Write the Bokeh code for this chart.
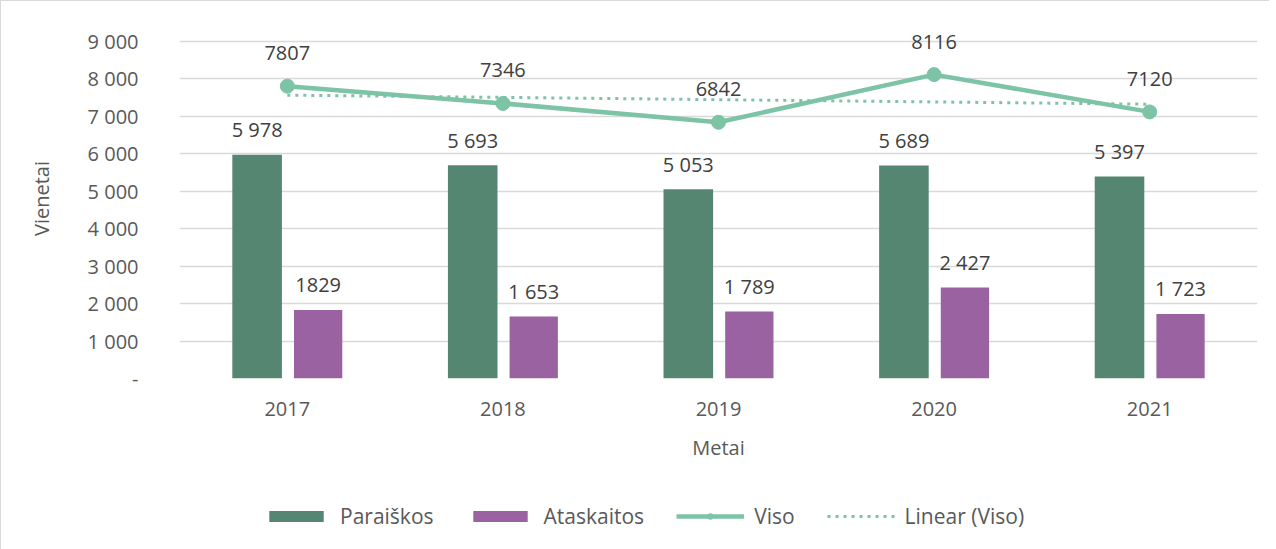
import numpy as np
from bokeh.plotting import figure
from bokeh.layouts import column
from bokeh.models import ColumnDataSource, FactorRange, Range1d, Legend, LegendItem, FixedTicker
from bokeh.transform import dodge
from bokeh.core.properties import value
from bokeh.embed import file_html
from bokeh.resources import INLINE

years = ["2017", "2018", "2019", "2020", "2021"]
paraiskos = [5978, 5693, 5053, 5689, 5397]
ataskaitos = [1829, 1653, 1789, 2427, 1723]
viso = [7807, 7346, 6842, 8116, 7120]
paraiskos_labels = ["5 978", "5 693", "5 053", "5 689", "5 397"]
ataskaitos_labels = ["1829", "1 653", "1 789", "2 427", "1 723"]
viso_labels = ["7807", "7346", "6842", "8116", "7120"]
y_ticks = [0, 1000, 2000, 3000, 4000, 5000, 6000, 7000, 8000, 9000]
y_tick_labels = ["-", "1 000", "2 000", "3 000", "4 000", "5 000", "6 000", "7 000", "8 000", "9 000"]

# Linear trendline of "Viso" (as in the spreadsheet's linear trendline)
slope, intercept = np.polyfit(np.arange(len(viso)), viso, 1)
trend = [intercept + slope * i for i in range(len(viso))]

FONT = "Open Sans"
GREEN = "#548671"
PURPLE = "#9A62A1"
LINE = "#7DC3A5"

src = ColumnDataSource(dict(
    years=years, par=paraiskos, ata=ataskaitos, viso=viso, trend=trend,
    par_lab=paraiskos_labels, ata_lab=ataskaitos_labels, viso_lab=viso_labels,
))

p = figure(x_range=FactorRange(*years), y_range=Range1d(0, 9614),
           frame_width=1078, frame_height=360,
           output_backend="svg", toolbar_location=None,
           min_border_left=178, min_border_right=12, min_border_top=17, min_border_bottom=100)
p.outline_line_color = None
p.xgrid.grid_line_color = None
p.ygrid.grid_line_color = "#d9d9d9"
p.ygrid.grid_line_width = 1.5
p.yaxis.ticker = FixedTicker(ticks=y_ticks)
p.yaxis.major_label_overrides = {t: l for t, l in zip(y_ticks, y_tick_labels)}

for ax in (p.xaxis, p.yaxis):
    ax.axis_line_color = None
    ax.major_tick_line_color = None
    ax.minor_tick_line_color = None
    ax.major_label_text_font = FONT
    ax.major_label_text_font_size = "20px"
    ax.major_label_text_color = "#595959"
    ax.axis_label_text_font = FONT
    ax.axis_label_text_font_size = "20px"
    ax.axis_label_text_font_style = "normal"
    ax.axis_label_text_color = "#595959"

p.yaxis.axis_label = "Vienetai"
p.yaxis.major_label_standoff = 35
p.yaxis.axis_label_standoff = 30
p.xaxis.axis_label = "Metai"
p.xaxis.major_label_standoff = 17
p.xaxis.axis_label_standoff = 15

bar_kw = dict(source=src, line_color=None)
b1 = p.vbar(x=dodge("years", -0.14, range=p.x_range), top="par", width=0.23, fill_color=GREEN, **bar_kw)
b2 = p.vbar(x=dodge("years", 0.143, range=p.x_range), top="ata", width=0.224, fill_color=PURPLE, **bar_kw)
p.line(x="years", y="trend", source=src, line_color=LINE, line_width=3, line_dash="3 5")
p.line(x="years", y="viso", source=src, line_color=LINE, line_width=4.5)
p.scatter(x="years", y="viso", source=src, size=14, fill_color=LINE, line_color=LINE)

lab_kw = dict(text_font=value(FONT), text_font_size="20px", text_color="#404040",
              text_align="center", text_baseline="middle", source=src)
p.text(x=dodge("years", -0.14, range=p.x_range), y="par", text="par_lab", y_offset=-25, **lab_kw)
p.text(x=dodge("years", 0.143, range=p.x_range), y="ata", text="ata_lab", y_offset=-25, **lab_kw)
p.text(x="years", y="viso", text="viso_lab", y_offset=-33, **lab_kw)

# Legend strip below the chart (same series; its y range keeps the marks out of view)
lf = figure(x_range=p.x_range, y_range=Range1d(100000, 100072), width=1268, height=72,
            output_backend="svg", toolbar_location=None, min_border=0,
            x_axis_location=None, y_axis_location=None)
lf.grid.visible = False
lf.outline_line_color = None
lb1 = lf.vbar(x="years", top="par", width=0.23, fill_color=GREEN, **bar_kw)
lb2 = lf.vbar(x="years", top="ata", width=0.224, fill_color=PURPLE, **bar_kw)
lln = lf.line(x="years", y="viso", source=src, line_color=LINE, line_width=4.5)
lsc = lf.scatter(x="years", y="viso", source=src, size=14, fill_color=LINE, line_color=LINE)
ltr = lf.line(x="years", y="trend", source=src, line_color=LINE, line_width=3, line_dash="3 5")

legend = Legend(items=[
    LegendItem(label="Paraiškos", renderers=[lb1]),
    LegendItem(label="Ataskaitos", renderers=[lb2]),
    LegendItem(label="Viso", renderers=[lln, lsc]),
    LegendItem(label="Linear (Viso)", renderers=[ltr]),
], orientation="horizontal", location=(83, 20), glyph_width=68, glyph_height=14,
    label_standoff=10, spacing=32, border_line_color=None, background_fill_alpha=0,
    label_text_font=FONT, label_text_font_size="21px", label_text_color="#595959",
    margin=0, padding=0)
lf.add_layout(legend, "center")

layout = column(p, lf, spacing=0)
layout.styles = {"border-left": "1px solid #d9d9d9", "border-top": "1px solid #d9d9d9"}

open("out.html", "w").write(file_html(layout, INLINE))
